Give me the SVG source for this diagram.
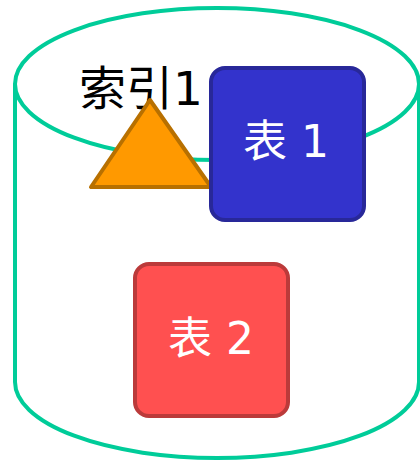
<svg xmlns="http://www.w3.org/2000/svg" width="420" height="462" viewBox="0 0 420 462">
<style>
.cyl{fill:none;stroke:#00cc99;stroke-width:4}
.lbl{font-family:"DejaVu Sans","Noto Sans CJK SC",sans-serif;text-anchor:middle}
.box{stroke-width:4}
</style>
<rect width="420" height="462" fill="#ffffff"/>
<g id="cylinder">
<ellipse class="cyl" cx="217" cy="84" rx="202" ry="76"/>
<path class="cyl" d="M15,84 V382 A202,76 0 0 0 419,382 V84"/>
</g>
<g id="index1">
<text class="lbl" x="141" y="105" font-size="47" fill="#000000">索引1</text>
<polygon points="150,100 91,187 211,187" fill="#ff9900" stroke="#b87000" stroke-width="4" stroke-linejoin="round"/>
</g>
<g id="table1">
<rect class="box" x="211" y="68" width="153" height="152" rx="14" fill="#3333cc" stroke="#282899"/>
<text class="lbl" x="286" y="157" font-size="44" fill="#ffffff">表 1</text>
</g>
<g id="table2">
<rect class="box" x="135" y="264" width="153" height="152" rx="14" fill="#ff5050" stroke="#bb3a3a"/>
<text class="lbl" x="211" y="354" font-size="44" fill="#ffffff">表 2</text>
</g>
<g id="connectors"></g>
</svg>
